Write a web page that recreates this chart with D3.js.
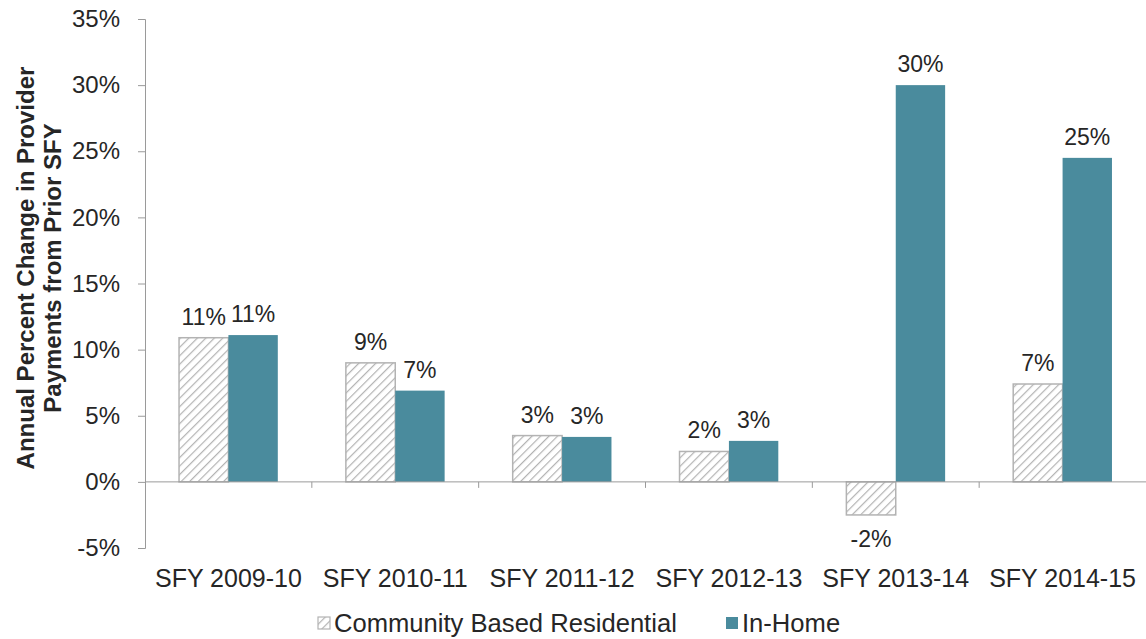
<!DOCTYPE html>
<html>
<head>
<meta charset="utf-8">
<script src="https://cdn.jsdelivr.net/npm/d3@7"></script>
<style>
  body { margin: 0; background: #fff; }
  text { font-family: "Liberation Sans", Arial, sans-serif; fill: #262626; }
</style>
</head>
<body>
<script>
// Data
const categories = ["SFY 2009-10", "SFY 2010-11", "SFY 2011-12", "SFY 2012-13", "SFY 2013-14", "SFY 2014-15"];
const seriesNames = ["Community Based Residential", "In-Home"];
const communityValues = [10.9, 9.0, 3.5, 2.3, -2.5, 7.4];
const inHomeValues = [11.1, 6.9, 3.4, 3.1, 30.0, 24.5];
const communityLabels = ["11%", "9%", "3%", "2%", "-2%", "7%"];
const inHomeLabels = ["11%", "7%", "3%", "3%", "30%", "25%"];
const yTicks = [-5, 0, 5, 10, 15, 20, 25, 30, 35];

const TEAL = "#4a8b9d";
const HATCH_GREY = "#b3b3b3";
const AXIS_GREY = "#9a9a9a";

const W = 1146, H = 639;
const margin = { left: 145, right: 0, top: 19, bottom: 91 };

function main() {
    const svg = d3.select("body").append("svg")
        .attr("width", W)
        .attr("height", H);

    // hatch pattern
    const defs = svg.append("defs");
    const pat = defs.append("pattern")
        .attr("id", "hatch")
        .attr("patternUnits", "userSpaceOnUse")
        .attr("width", 6)
        .attr("height", 6)
        .attr("patternTransform", "rotate(45)");
    pat.append("rect").attr("width", 6).attr("height", 6).attr("fill", "#fff");
    pat.append("line")
        .attr("x1", 0).attr("y1", 0).attr("x2", 0).attr("y2", 6)
        .attr("stroke", HATCH_GREY)
        .attr("stroke-width", 2.4);

    const x = d3.scaleBand()
        .domain(categories)
        .range([margin.left, W - margin.right]);

    const y = d3.scaleLinear()
        .domain([-5, 35])
        .range([H - margin.bottom, margin.top]);

    const barW = x.bandwidth() * 0.296;

    // ----- y axis -----
    const yAxis = svg.append("g")
        .attr("transform", `translate(${margin.left},0)`)
        .call(d3.axisLeft(y).tickValues(yTicks).tickSize(7).tickPadding(18).tickFormat(d => d + "%"));
    yAxis.select(".domain").attr("stroke", AXIS_GREY);
    yAxis.selectAll(".tick line").attr("stroke", AXIS_GREY);
    yAxis.selectAll(".tick text")
        .attr("font-size", 24)
        .attr("font-family", null)
        .style("fill", "#262626");

    // ----- bars -----
    const groups = svg.append("g").selectAll("g")
        .data(categories)
        .enter()
        .append("g");

    groups.append("rect")
        .attr("x", d => x(d) + x.bandwidth() / 2 - barW)
        .attr("y", (d, i) => y(Math.max(0, communityValues[i])))
        .attr("width", barW)
        .attr("height", (d, i) => Math.abs(y(communityValues[i]) - y(0)))
        .attr("fill", "url(#hatch)")
        .attr("stroke", HATCH_GREY)
        .attr("stroke-width", 1.5);

    groups.append("rect")
        .attr("x", d => x(d) + x.bandwidth() / 2)
        .attr("y", (d, i) => y(Math.max(0, inHomeValues[i])))
        .attr("width", barW)
        .attr("height", (d, i) => Math.abs(y(inHomeValues[i]) - y(0)))
        .attr("fill", TEAL);

    // value labels
    groups.append("text")
        .attr("x", d => x(d) + x.bandwidth() / 2 - barW / 2)
        .attr("y", (d, i) => communityValues[i] >= 0 ? y(communityValues[i]) - 13 : y(communityValues[i]) + 32)
        .attr("text-anchor", "middle")
        .attr("font-size", 23)
        .text((d, i) => communityLabels[i]);

    groups.append("text")
        .attr("x", d => x(d) + x.bandwidth() / 2 + barW / 2)
        .attr("y", (d, i) => y(inHomeValues[i]) - 13)
        .attr("text-anchor", "middle")
        .attr("font-size", 23)
        .text((d, i) => inHomeLabels[i]);

    // ----- x axis at zero -----
    const xAxis = svg.append("g")
        .attr("transform", `translate(0,${y(0)})`);
    xAxis.append("line")
        .attr("x1", margin.left).attr("x2", W - margin.right)
        .attr("stroke", AXIS_GREY);
    xAxis.selectAll("line.tk")
        .data(categories.slice(1))
        .enter()
        .append("line")
        .attr("class", "tk")
        .attr("x1", d => x(d)).attr("x2", d => x(d))
        .attr("y1", 0).attr("y2", 6)
        .attr("stroke", AXIS_GREY);

    // category labels
    svg.append("g").selectAll("text")
        .data(categories)
        .enter()
        .append("text")
        .attr("x", d => x(d) + x.bandwidth() / 2)
        .attr("y", 587)
        .attr("text-anchor", "middle")
        .attr("font-size", 25)
        .text(d => d);

    // ----- y title -----
    const title = svg.append("text")
        .attr("transform", `translate(34,268) rotate(-90)`)
        .attr("text-anchor", "middle")
        .attr("font-size", 24)
        .attr("font-weight", "bold");
    title.append("tspan").attr("x", 0).attr("dy", 0).text("Annual Percent Change in Provider");
    title.append("tspan").attr("x", 0).attr("dy", 27).text("Payments from Prior SFY");

    // ----- legend -----
    const legendItems = [
        { name: seriesNames[0], fill: "url(#hatch)", stroke: HATCH_GREY, x: 318 },
        { name: seriesNames[1], fill: TEAL, stroke: "none", x: 726 }
    ];
    const legend = svg.append("g").attr("transform", "translate(0,632)");
    const li = legend.selectAll("g")
        .data(legendItems)
        .enter()
        .append("g")
        .attr("transform", d => `translate(${d.x},0)`);
    li.append("rect")
        .attr("x", 0).attr("y", -15)
        .attr("width", 12).attr("height", 12)
        .attr("fill", d => d.fill)
        .attr("stroke", d => d.stroke)
        .attr("stroke-width", 1.2);
    li.append("text")
        .attr("x", 16)
        .attr("y", 0)
        .attr("font-size", 25.6)
        .text(d => d.name);
}

main();
</script>
</body>
</html>
